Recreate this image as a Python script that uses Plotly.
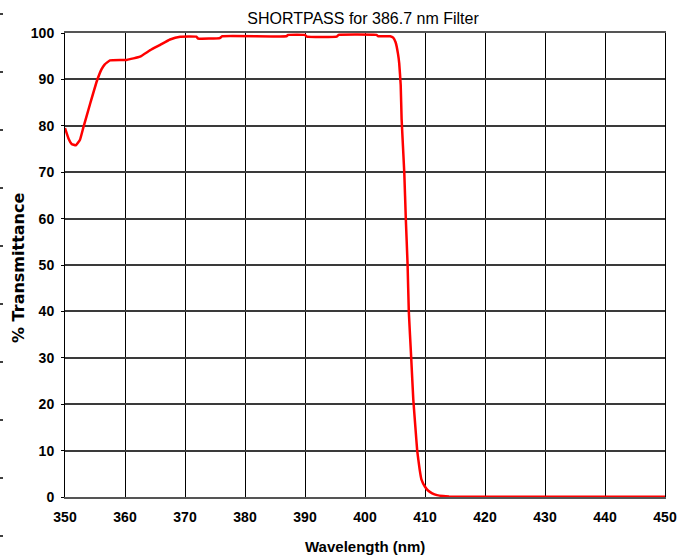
import plotly.graph_objects as go

# Data
wavelength_nm = [350, 350.6, 351.1, 351.8, 352.5, 353.05, 354.2, 355.3, 356.1, 356.6,
                 357.5, 360.3, 362.5, 364.2, 365.8, 367.5, 369.2, 371.9, 372.2, 375.8,
                 376.2, 386.9, 387.2, 390.0, 390.3, 395.3, 395.6, 401.9, 402.2, 404.2,
                 404.7, 405.1, 405.5, 405.7, 405.95, 406.1, 406.55, 406.8, 407.1, 407.3,
                 407.7, 408.05, 408.4, 408.7, 409.1, 409.4, 410.0, 410.5, 411.2, 412.0,
                 413.0, 414.0, 420.0, 450.0]
transmittance_pct = [79.5, 77.2, 76.1, 75.8, 77.0, 79.6, 84.8, 89.6, 92.2, 93.2,
                     94.1, 94.2, 94.9, 96.3, 97.4, 98.6, 99.2, 99.2, 98.8, 98.9,
                     99.3, 99.3, 99.6, 99.6, 99.2, 99.2, 99.6, 99.6, 99.3, 99.3,
                     99.0, 98.0, 95.5, 93.5, 88.8, 81.5, 69.8, 60.0, 50.0, 40.0,
                     30.0, 21.0, 15.0, 10.0, 6.0, 3.8, 2.2, 1.4, 0.8, 0.4,
                     0.2, 0.1, 0.05, 0.05]

x_ticks = list(range(350, 451, 10))
y_ticks = list(range(0, 101, 10))

title_text = "SHORTPASS for 386.7 nm Filter"
x_title = "Wavelength (nm)"
y_title = "% Transmittance"

fig = go.Figure()
fig.add_trace(go.Scatter(
    x=wavelength_nm, y=transmittance_pct, mode="lines",
    line=dict(color="#ff0000", width=2.5, shape="spline", smoothing=0.3),
    hoverinfo="x+y", showlegend=False,
))

tick_font = dict(family="Liberation Sans, Arial, sans-serif",
                 size=14, color="black", weight="bold")

fig.update_layout(
    width=693, height=559,
    margin=dict(l=65, r=28, t=33, b=62, pad=0),
    paper_bgcolor="white", plot_bgcolor="white",
    title=dict(text=title_text, x=(363 - 65) / 600, xref="paper", xanchor="center",
               y=1 - 18 / 559, yanchor="middle",
               font=dict(family="Liberation Sans, Arial, sans-serif", size=16, color="black")),
    xaxis=dict(range=[350, 450], tickvals=x_ticks, ticktext=[str(t) for t in x_ticks],
               showgrid=True, gridcolor="black", gridwidth=1,
               showline=True, linecolor="#555555", linewidth=2, mirror=True,
               zeroline=False, ticks="", tickfont=tick_font, ticklabelstandoff=6),
    yaxis=dict(range=[0, 100], tickvals=y_ticks, ticktext=[str(t) for t in y_ticks],
               showgrid=True, gridcolor="#3a3a3a", gridwidth=1.5,
               showline=True, linecolor="black", linewidth=1, mirror=True,
               zeroline=False, ticks="outside", ticklen=3, tickcolor="black", tickwidth=1,
               tickfont=tick_font, ticklabelstandoff=4),
    annotations=[
        dict(text=x_title, xref="paper", yref="paper", x=(365 - 65) / 600, y=(497 - 546) / 464,
             xanchor="center", yanchor="middle", showarrow=False,
             font=dict(family="Liberation Sans, Arial, sans-serif", size=15, color="black", weight="bold")),
        dict(text=y_title, xref="paper", yref="paper", x=(18 - 65) / 600, y=(497 - 268) / 464,
             xanchor="center", yanchor="middle", showarrow=False, textangle=-90,
             font=dict(family="DejaVu Sans, sans-serif", size=16, color="black", weight="bold")),
    ],
)

# small stray dash marks along the far-left edge of the reference image
shapes = []
for py in [14, 72, 130, 188, 246, 304, 362, 420, 478, 536]:
    yp = (497 - py) / 464
    shapes.append(dict(type="line", xref="paper", yref="paper",
                       x0=(0 - 65) / 600, x1=(3 - 65) / 600, y0=yp, y1=yp,
                       line=dict(color="black", width=1.5)))
fig.update_layout(shapes=shapes)

fig.write_html("out.html")
